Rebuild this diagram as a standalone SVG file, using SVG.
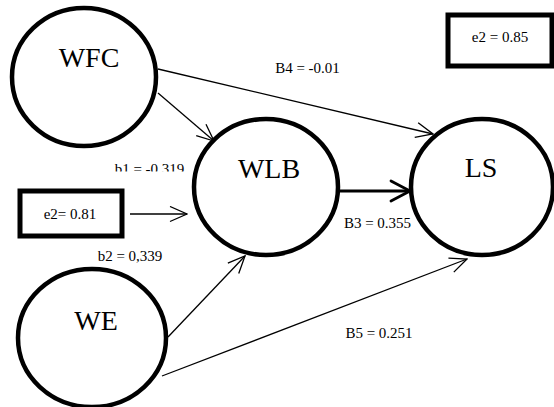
<svg xmlns="http://www.w3.org/2000/svg" width="554" height="407" viewBox="0 0 554 407">
<style>
.node{fill:#fff;stroke:#000;stroke-width:4.5}
.box{fill:#fff;stroke:#000;stroke-width:5}
.nt{font-family:'Liberation Serif','Times New Roman',serif;font-size:28px;fill:#000;text-anchor:middle}
.lt{font-family:'Liberation Serif','Times New Roman',serif;font-size:15px;fill:#000;text-anchor:middle}
.edge{stroke:#000;stroke-width:1.3;fill:none;marker-end:url(#arr)}
.thick{stroke:#000;stroke-width:3;fill:none;marker-end:url(#arrT)}
</style>
<defs>
<marker id="arr" viewBox="0 0 19 17" refX="18" refY="8.5" markerWidth="19" markerHeight="17" markerUnits="userSpaceOnUse" orient="auto">
<path d="M1,1 L18,8.5 L1,16" fill="none" stroke="#000" stroke-width="1.3"/>
</marker>
<marker id="arrT" viewBox="0 0 24 24" refX="21" refY="12" markerWidth="24" markerHeight="24" markerUnits="userSpaceOnUse" orient="auto">
<path d="M2,2 L21,12 L2,22" fill="none" stroke="#000" stroke-width="2.8" stroke-linecap="round" stroke-linejoin="round"/>
</marker>
<clipPath id="b1clip"><rect x="100" y="150" width="100" height="21.5"/></clipPath>
</defs>
<g id="connectors">
<line class="edge" x1="158" y1="69" x2="433" y2="134"/>
<line class="edge" x1="158" y1="93" x2="214" y2="141"/>
<line class="thick" x1="339" y1="191" x2="410" y2="191"/>
<line class="edge" x1="168" y1="337" x2="245" y2="256"/>
<line class="edge" x1="162" y1="376" x2="467" y2="259"/>
<line class="edge" x1="130" y1="214" x2="187" y2="214"/>
</g>
<g id="WFC"><ellipse class="node" cx="84" cy="77" rx="72" ry="69"/><text class="nt" x="89" y="67">WFC</text></g>
<g id="WLB"><ellipse class="node" cx="266" cy="187" rx="72" ry="68"/><text class="nt" x="269" y="178">WLB</text></g>
<g id="LS"><ellipse class="node" cx="482" cy="187" rx="71" ry="68"/><text class="nt" x="481" y="177">LS</text></g>
<g id="WE"><ellipse class="node" cx="92" cy="338" rx="74" ry="69"/><text class="nt" x="96" y="330">WE</text></g>
<g id="e2_LS"><rect class="box" x="448" y="15" width="104" height="51"/><text class="lt" x="500" y="42">e2 = 0.85</text></g>
<g id="e2_WLB"><rect class="box" x="20" y="191" width="102" height="45"/><text class="lt" x="70" y="219">e2= 0.81</text></g>
<g id="labels">
<text class="lt" x="307.5" y="73">B4 = -0.01</text>
<text class="lt" x="149.5" y="173.5" clip-path="url(#b1clip)">b1 = -0.319</text>
<text class="lt" x="130" y="261">b2 = 0,339</text>
<text class="lt" x="377.5" y="228">B3 = 0.355</text>
<text class="lt" x="379" y="338">B5 = 0.251</text>
</g>
</svg>
